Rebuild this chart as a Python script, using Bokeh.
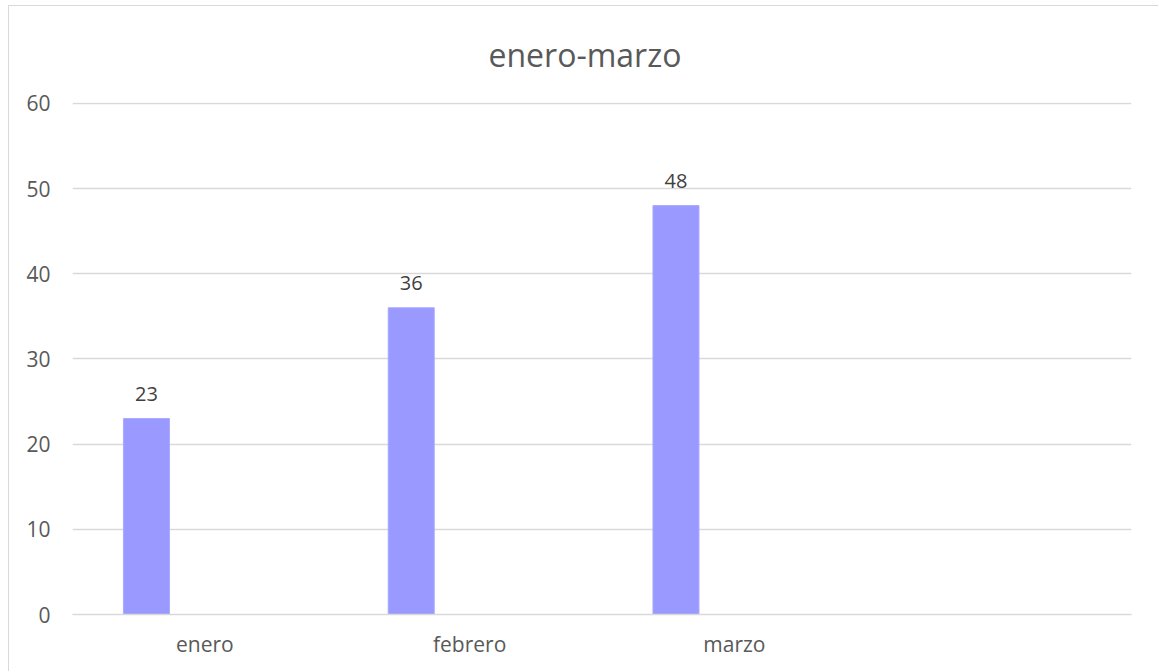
from bokeh.plotting import figure
from bokeh.models import ColumnDataSource, FactorRange, Range1d, FixedTicker, Title
from bokeh.transform import dodge
from bokeh.embed import file_html
from bokeh.resources import INLINE

# ---- data ----
categories = ["enero", "febrero", "marzo", " "]
months = ["enero", "febrero", "marzo"]
values = [23, 36, 48]
labels = ["23", "36", "48"]
y_ticks = [0, 10, 20, 30, 40, 50, 60]
title_text = "enero-marzo"

FONT = "Open Sans"
GRID = "#d9d9d9"
TXT = "#595959"

source = ColumnDataSource(dict(cat=months, val=values, lab=labels))

p = figure(
    x_range=FactorRange(factors=categories),
    y_range=Range1d(0, 60.1),
    width=1150, height=666,
    output_backend="svg", toolbar_location=None,
    min_border_left=63, min_border_right=28,
    min_border_top=96, min_border_bottom=58,
)
p.styles = {"border-left": "1px solid #d9d9d9", "border-top": "1px solid #d9d9d9",
            "margin-left": "8px", "margin-top": "5px"}

p.title = Title(text=title_text, align="left", vertical_align="top", text_font=FONT,
                text_font_size="32px", text_color=TXT, text_font_style="normal",
                standoff=49, offset=416)

p.vbar(x=dodge("cat", -0.2206, range=p.x_range), top="val", width=0.1738,
       source=source, fill_color="#9999FF", line_color="#a9a9ff", line_width=1)

p.text(x=dodge("cat", -0.2206, range=p.x_range), y="val", text="lab", source=source,
       text_align="center", text_baseline="alphabetic", y_offset=-25,
       text_font={"value": FONT}, text_font_size={"value": "20px"}, text_color="#404040")

p.outline_line_color = None
p.background_fill_color = "white"
p.border_fill_color = "white"

p.xgrid.grid_line_color = None
p.ygrid.grid_line_color = GRID
p.ygrid.grid_line_width = 1.3

p.yaxis.ticker = FixedTicker(ticks=y_ticks)
p.yaxis.axis_line_color = None
p.yaxis.major_tick_line_color = None
p.yaxis.minor_tick_line_color = None
p.yaxis.major_tick_out = 0
p.yaxis.major_label_standoff = 22
p.yaxis.major_label_text_font = FONT
p.yaxis.major_label_text_font_size = "21px"
p.yaxis.major_label_text_color = TXT

p.xaxis.axis_line_color = GRID
p.xaxis.axis_line_width = 1.3
p.xaxis.major_tick_line_color = None
p.xaxis.minor_tick_line_color = None
p.xaxis.major_tick_out = 0
p.xaxis.major_label_standoff = 15
p.xaxis.major_label_text_font = FONT
p.xaxis.major_label_text_font_size = "21px"
p.xaxis.major_label_text_color = TXT

open("out.html", "w").write(file_html(p, INLINE))
